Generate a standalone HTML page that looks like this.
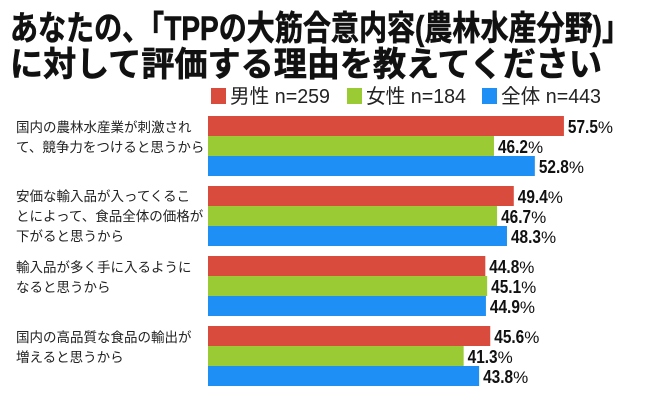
<!DOCTYPE html>
<html><head><meta charset="utf-8"><style>
html,body{margin:0;padding:0;background:#fff;}
svg{display:block;font-family:"Liberation Sans","Noto Sans CJK JP",sans-serif;}
</style></head><body>
<svg id="chart" width="645" height="400" viewBox="0 0 645 400" xmlns="http://www.w3.org/2000/svg">
<g font-weight="bold" fill="#111" stroke="#111" stroke-width="0.6" font-family="'Liberation Sans','Noto Sans CJK JP',sans-serif">
<text x="10" y="40" font-size="34" textLength="620" lengthAdjust="spacingAndGlyphs">あなたの、「TPPの大筋合意内容(農林水産分野)」</text>
<text x="10" y="76" font-size="34" textLength="592" lengthAdjust="spacingAndGlyphs">に対して評価する理由を教えてください</text>
</g>
<g id="legend"></g>
<g id="labels"></g>
<g id="bars"></g>
</svg>
<script>
const categories = [
  ["国内の農林水産業が刺激され","て、競争力をつけると思うから"],
  ["安価な輸入品が入ってくるこ","とによって、食品全体の価格が","下がると思うから"],
  ["輸入品が多く手に入るように","なると思うから"],
  ["国内の高品質な食品の輸出が","増えると思うから"]
];
const seriesNames = ["男性 n=259","女性 n=184","全体 n=443"];
const maleValues = [57.5, 49.4, 44.8, 45.6];
const femaleValues = [46.2, 46.7, 45.1, 41.3];
const totalValues = [52.8, 48.3, 44.9, 43.8];
const colors = ["#d94c3d","#9acb34","#1e90f5"];
const series = [maleValues, femaleValues, totalValues];

const NS = "http://www.w3.org/2000/svg";
const x0 = 208, pxPer = 6.19;
const xScale = v => x0 + v * pxPer;
const groupTop = i => 116 + i * 70;
const barH = 20;

function mk(tag, attrs, parent){
  const e = document.createElementNS(NS, tag);
  for (const k in attrs) e.setAttribute(k, attrs[k]);
  parent.appendChild(e);
  return e;
}

const lg = document.getElementById('legend');
const legX = [211, 347, 482];
seriesNames.forEach((n, i) => {
  const r = mk('rect', {x: legX[i], y: 88, width: 15, height: 16, fill: colors[i]}, lg);
  
  
  const t = mk('text', {x: legX[i] + 19, y: 103, 'font-size': 20, fill: '#222', textLength: 100, lengthAdjust: 'spacingAndGlyphs'}, lg);
  t.textContent = n;
  
  
});

const lb = document.getElementById('labels');
const firstLineY = [132, 201, 272, 342];
categories.forEach((lines, i) => {
  lines.forEach((ln, j) => {
    const t = mk('text', {x: 16, y: firstLineY[i] + j * 20, 'font-size': 13.5, fill: '#222'}, lb);
    t.textContent = ln;
    
    
  });
});

const bg = document.getElementById('bars');
categories.forEach((c, i) => {
  series.forEach((vals, s) => {
    const y = groupTop(i) + s * barH;
    const v = vals[i];
    const r = mk('rect', {x: x0, y: y, width: xScale(v) - x0, height: barH, fill: colors[s]}, bg);
    
    
    const t = mk('text', {x: xScale(v) + 4, y: y + 17, 'font-size': 18, fill: '#111'}, bg);
    const num = mk('tspan', {'font-weight': 'bold', textLength: 30, lengthAdjust: 'spacingAndGlyphs'}, t);
    num.textContent = v.toFixed(1);
    const pct = mk('tspan', {'font-size': 17}, t);
    pct.textContent = '%';
    
    
  });
});
</script>
</body></html>
